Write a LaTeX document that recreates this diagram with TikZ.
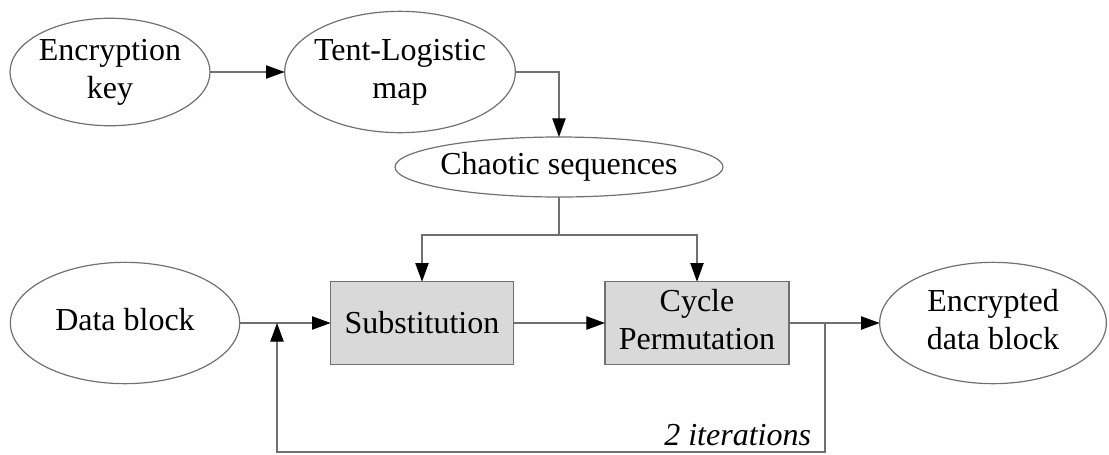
\documentclass[tikz,border=0pt]{standalone}
\usepackage{fontspec}
\setmainfont{Liberation Serif}
\usetikzlibrary{shapes.geometric,arrows.meta}
\definecolor{linegray}{HTML}{707070}
\definecolor{boxfill}{HTML}{D9D9D9}
\newcommand{\zw}[1]{\makebox[0pt]{\begin{tabular}{@{}c@{}}#1\end{tabular}}}
\tikzset{
  base/.style={font=\fontsize{24}{28.5}\selectfont, inner sep=0pt, outer sep=0pt},
  ell/.style={base, ellipse, draw=linegray, line width=0.9pt},
  blk/.style={base, rectangle, draw=linegray, fill=boxfill, line width=1pt},
  conn/.style={draw=linegray, line width=0.9pt},
  arr/.style={conn, -{Triangle[length=14pt,width=10pt,fill=black,color=black]}}
}
\begin{document}
\begin{tikzpicture}[x=0.75pt,y=-0.75pt]
\useasboundingbox (0,0) rectangle (1109,454);
\node[ell, minimum width=150pt, minimum height=76pt] (key) at (110,72) {\zw{Encryption\\key}};
\node[ell, minimum width=173pt, minimum height=91pt] (tent) at (400,72) {\zw{Tent-Logistic\\map}};
\node[ell, minimum width=246pt, minimum height=45pt] (chaos) at (559,167) {\zw{Chaotic sequences}};
\node[ell, minimum width=172pt, minimum height=91pt] (data) at (125,323) {\zw{Data block}};
\node[ell, minimum width=170pt, minimum height=91pt] (enc) at (993,323) {\zw{Encrypted\\data block}};
\node[blk, minimum width=137pt, minimum height=62pt] (sub) at (422,323) {Substitution};
\node[blk, minimum width=138pt, minimum height=62pt] (cyc) at (697,323) {\zw{Cycle\\Permutation}};
\coordinate (split) at (559,235);
\coordinate (j) at (825,323);
\coordinate (k) at (277,323);
\coordinate (fb) at (277,452);
\draw[arr] (key.east) -- (tent.west);
\draw[arr] (tent.east) -| (chaos.north);
\draw[conn] (chaos.south) -- (split);
\draw[arr] (split) -| (sub.north);
\draw[arr] (split) -| (cyc.north);
\draw[arr] (data.east) -- (sub.west);
\draw[arr] (sub.east) -- (cyc.west);
\draw[arr] (cyc.east) -- (enc.west);
\draw[arr] (j) -- (j |- fb) -- (fb) -- (k);
\node[base, anchor=base east, font=\fontsize{24}{28.5}\selectfont\itshape] (iter) at (811,445) {2 iterations};
\end{tikzpicture}
\end{document}
